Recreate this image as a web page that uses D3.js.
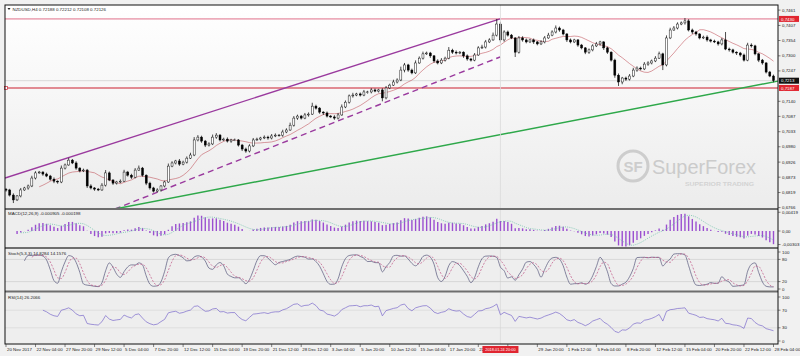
<!DOCTYPE html>
<html><head><meta charset="utf-8">
<script src="https://cdn.jsdelivr.net/npm/d3@7"></script>
<style>
body{margin:0;background:#efefef}
svg{display:block}
text{font-family:"Liberation Sans",Arial,sans-serif}
</style></head>
<body><svg id="c" width="800" height="356"></svg>
<script>
// ---------- DATA (prices in 1e-4 units) ----------
const firstOpen = 6830;
const closes = [
6828,6810,6793,6807,6828,6835,6842,6870,6888,6891,
6884,6877,6866,6859,6856,6905,6916,6933,6923,6905,
6895,6898,6842,6835,6831,6828,6845,6888,6863,6852,
6856,6859,6891,6880,6873,6898,6905,6880,6852,6835,
6824,6828,6842,6856,6912,6923,6930,6919,6926,6940,
6951,7004,7014,7000,6986,6990,7014,7021,7004,7007,
7000,7004,7004,6986,6972,6965,6983,7004,7007,7011,
7014,7011,7018,7021,7021,7032,7039,7056,7081,7088,
7081,7092,7095,7123,7116,7102,7099,7088,7085,7081,
7092,7120,7137,7159,7162,7166,7162,7173,7173,7180,
7176,7180,7152,7187,7197,7208,7215,7250,7268,7250,
7240,7275,7292,7307,7310,7300,7282,7275,7285,7292,
7320,7313,7310,7313,7300,7289,7285,7303,7328,7331,
7349,7356,7373,7412,7356,7384,7373,7363,7313,7363,
7356,7349,7356,7349,7342,7349,7363,7373,7384,7398,
7391,7377,7356,7349,7356,7338,7328,7313,7321,7335,
7342,7349,7328,7313,7285,7232,7208,7222,7218,7229,
7250,7257,7254,7271,7275,7282,7292,7307,7268,7363,
7391,7398,7412,7416,7423,7391,7384,7377,7363,7366,
7356,7352,7349,7342,7356,7324,7321,7313,7310,7303,
7285,7338,7335,7307,7285,7275,7243,7229,7213];
const wickUp = [
5,4,6,3,7,4,5,8,6,4,3,5,4,6,3,9,5,8,4,6,
3,5,4,6,3,4,7,10,5,3,4,6,8,4,5,7,9,4,3,5,
4,6,3,5,9,6,4,7,5,6,8,10,7,5,4,6,9,7,4,5,
6,4,5,3,4,5,6,7,5,4,6,5,7,6,4,8,6,9,7,5,
4,7,6,12,5,4,3,5,4,6,7,9,6,5,8,4,5,7,4,6,
5,4,6,7,5,8,6,12,7,4,5,9,6,8,5,4,3,6,7,5,
11,5,6,4,3,5,4,7,6,8,7,6,9,18,8,6,5,4,3,7,
6,5,4,5,3,6,7,8,6,9,5,4,3,5,4,3,4,3,5,6,
7,4,3,4,3,5,6,4,5,7,8,6,5,7,6,5,7,8,4,9,
8,7,6,5,10,6,5,4,3,5,6,4,5,4,7,28,5,4,3,4,
5,8,6,4,3,4,3,4,5];
const wickDn = [
6,5,11,4,5,3,6,4,5,3,6,4,5,7,6,4,5,3,4,6,
5,4,7,5,6,4,3,5,4,6,5,4,3,5,6,4,3,5,7,6,
5,4,6,5,3,4,5,6,4,5,3,4,5,6,7,5,4,6,5,4,
5,6,4,5,7,6,5,4,3,5,4,6,5,4,5,6,4,3,5,6,
5,4,6,3,5,6,7,5,4,6,5,3,4,5,6,4,5,4,6,5,
4,5,12,5,4,3,5,4,8,6,5,4,3,5,4,7,6,5,4,5,
4,6,5,4,7,6,5,4,3,4,5,4,3,5,9,6,5,4,17,5,
6,5,4,7,5,4,5,3,4,5,6,5,7,5,4,6,5,7,6,5,
4,6,7,6,5,9,14,8,6,5,4,6,5,4,6,5,4,3,18,5,
4,3,5,4,6,5,7,6,5,4,6,5,4,6,5,4,6,5,7,6,
5,4,6,5,7,6,5,4,6];
const timeLabels = ["20 Nov 2017","22 Nov 04:00","27 Nov 20:00","29 Nov 12:00","5 Dec 04:00","7 Dec 20:00",
"12 Dec 12:00","15 Dec 04:00","19 Dec 20:00","21 Dec 12:00","28 Dec 12:00","3 Jan 04:00","5 Jan 20:00",
"10 Jan 12:00","15 Jan 04:00","17 Jan 20:00","22 Jan 12:00","25 Jan 04:00","29 Jan 20:00","1 Feb 12:00",
"5 Feb 04:00","8 Feb 20:00","12 Feb 12:00","15 Feb 04:00","20 Feb 20:00","22 Feb 12:00","28 Feb 04:00"];
const priceTicks = [0.7461,0.7407,0.7354,0.7300,0.7247,0.7194,0.7140,0.7087,0.7033,0.6980,0.6926,0.6873,0.6819,0.6766];
const macdTicks = [0.00419,0,-0.00303];
const macdTickText = ["0,00419","0,00","-0,00303"];
const stochTicks = [100,80,20,0];
const rsiTicks = [100,70,30,0];
const resistance = 0.7430, support = 0.7187, bidPrice = 0.72126;
// trend lines as [barIndex, price]
const channelUpper = [[-0.27,0.6870],[133.9,0.7430]];
const channelLower = [[29.5,0.6761],[133.9,0.7296]];
const greenTrend = [[29.5,0.6761],[209.2,0.7211]];
const cursorBar = 134, cursorText = "2018.01.24 20:00";
const headerText = "NZDUSD,H4  0.72188 0.72212 0.72108 0.72126";
const macdText = "MACD(12,26,9) -0.000905 -0.000198";
const stochText = "Stoch(5,3,3) 14.8284 14.1576";
const rsiText = "RSI(14) 26.2066";

// ---------- BUILD ----------
const bars = closes.map((c,i)=>{
  const o = i===0?firstOpen:closes[i-1];
  return {i, o:o/1e4, c:c/1e4, h:(Math.max(o,c)+wickUp[i])/1e4, l:(Math.min(o,c)-wickDn[i])/1e4};
});
const C = bars.map(b=>b.c);

const L=5, R=778, T=5;
const x = d3.scaleLinear().domain([0,208]).range([6,773.5]);
const y = d3.scaleLinear().domain([0.6761,0.7479]).range([209,5]);
const ym = d3.scaleLinear().domain([-0.00358,0.0047]).range([247,210]);
const ys = d3.scaleLinear().domain([0,100]).range([289,252]);
const yr = d3.scaleLinear().domain([0,100]).range([341,297]);

const svg = d3.select("#c");
const defs = svg.append("defs");
const g1 = defs.append("linearGradient").attr("id","bg").attr("x1",0).attr("y1",0).attr("x2",0).attr("y2",1);
g1.append("stop").attr("offset","0%").attr("stop-color","#ffffff");
g1.append("stop").attr("offset","100%").attr("stop-color","#ececec");
defs.append("clipPath").attr("id","clipMain").append("rect").attr("x",L).attr("y",T).attr("width",R-L).attr("height",209-T);

svg.append("rect").attr("width",800).attr("height",356).attr("fill","#f1f1f1");
svg.append("rect").attr("x",L).attr("y",T).attr("width",R-L).attr("height",209-T).attr("fill","url(#bg)");
svg.append("rect").attr("x",L).attr("y",209).attr("width",R-L).attr("height",344-209).attr("fill","#eeeeee");

// watermark
const wm = svg.append("g").attr("fill","#cbcbcb");
wm.append("circle").attr("cx",633).attr("cy",166).attr("r",15).attr("fill","none").attr("stroke","#cdcdcd").attr("stroke-width",3);
wm.append("text").attr("x",633).attr("y",171.5).attr("text-anchor","middle").attr("font-size",15).attr("font-weight","bold").attr("font-family","Roboto").attr("fill","#cdcdcd").text("SF");
wm.append("text").attr("x",652).attr("y",174).attr("font-size",20).attr("font-family","Roboto").attr("font-weight",500)
  .attr("textLength",104).attr("lengthAdjust","spacingAndGlyphs").text("SuperForex");
wm.append("text").attr("x",685).attr("y",185.5).attr("font-size",6).attr("font-weight","bold")
  .attr("textLength",69).attr("lengthAdjust","spacingAndGlyphs").attr("fill","#d3d3d3").text("SUPERIOR TRADING");

const main = svg.append("g").attr("clip-path","url(#clipMain)");
svg.append("line").attr("x1",x(cursorBar)).attr("x2",x(cursorBar)).attr("y1",T).attr("y2",344).attr("stroke","#dcdcdc").attr("stroke-width",0.8);
main.append("line").attr("x1",L).attr("x2",R).attr("y1",y(bidPrice)).attr("y2",y(bidPrice)).attr("stroke","#d0d0d0").attr("stroke-width",0.8);
main.append("line").attr("x1",L).attr("x2",R).attr("y1",y(resistance)).attr("y2",y(resistance)).attr("stroke","#e0708a").attr("stroke-width",1);
main.append("line").attr("x1",L).attr("x2",R).attr("y1",y(support)).attr("y2",y(support)).attr("stroke","#cc2030").attr("stroke-width",1.1);
svg.append("rect").attr("x",L-0.5).attr("y",y(support)-1.5).attr("width",3).attr("height",3).attr("fill","#fff").attr("stroke","#cc2030").attr("stroke-width",0.7);

const tl = d3.line().x(d=>x(d[0])).y(d=>y(d[1]));
main.append("path").attr("d",tl(channelUpper)).attr("stroke","#9a3a9e").attr("stroke-width",1.4).attr("fill","none");
main.append("path").attr("d",tl(channelLower)).attr("stroke","#9a3a9e").attr("stroke-width",1.4).attr("stroke-dasharray","6,4").attr("fill","none");
main.append("path").attr("d",tl(greenTrend)).attr("stroke","#2ea84a").attr("stroke-width",1.4).attr("fill","none");

function sma(a,n){return a.map((v,i)=>i<n-1?null:d3.mean(a.slice(i-n+1,i+1)));}
const ma = sma(C,10);
main.append("path").datum(ma.map((v,i)=>[i,v]).filter(d=>d[1]!==null))
  .attr("d",d3.line().x(d=>x(d[0])).y(d=>y(d[1]))).attr("fill","none").attr("stroke","#b83a44").attr("stroke-width",0.5);

const cg = main.append("g");
cg.selectAll("line.w").data(bars).join("line").attr("x1",d=>x(d.i)).attr("x2",d=>x(d.i))
  .attr("y1",d=>y(d.h)).attr("y2",d=>y(d.l)).attr("stroke","#000").attr("stroke-width",0.7);
cg.selectAll("rect.b").data(bars).join("rect")
  .attr("x",d=>x(d.i)-1).attr("width",2)
  .attr("y",d=>y(Math.max(d.o,d.c))).attr("height",d=>Math.max(0.7,Math.abs(y(d.o)-y(d.c))))
  .attr("fill",d=>d.c>=d.o?"#ffffff":"#000000").attr("stroke","#000").attr("stroke-width",0.45);

// ---------- indicators ----------
function ema(a,n){const k=2/(n+1);let p=a[0];return a.map((v,i)=>(p=i?v*k+p*(1-k):v));}
const e6=ema(C,6), e13=ema(C,13);
const macd = e6.map((v,i)=>v-e13[i]);
const signal = sma(macd,5);
const ind = svg.append("g");
ind.selectAll("line.h").data(macd.map((v,i)=>({i,v})).slice(3)).join("line")
  .attr("x1",d=>x(d.i)).attr("x2",d=>x(d.i)).attr("y1",ym(0)).attr("y2",d=>ym(d.v))
  .attr("stroke","#9b4fd0").attr("stroke-width",1.4);
ind.append("path").datum(signal.map((v,i)=>[i,v]).filter(d=>d[1]!==null))
  .attr("d",d3.line().x(d=>x(d[0])).y(d=>ym(d[1]))).attr("fill","none").attr("stroke","#6fc2aa").attr("stroke-width",0.8).attr("stroke-dasharray","1,1.2");

const H = bars.map(b=>b.h), Lo = bars.map(b=>b.l);
const kp=4, sl=3, dp=3;
const kVals = C.map((c,i)=>{
  if(i<kp+sl-2) return null;
  let num=0,den=0;
  for(let j=i-sl+1;j<=i;j++){const hh=d3.max(H.slice(j-kp+1,j+1)), ll=d3.min(Lo.slice(j-kp+1,j+1)); num+=C[j]-ll; den+=hh-ll;}
  return den?num/den*100:50;
});
const dVals = kVals.map((v,i)=>{const s=kVals.slice(Math.max(0,i-dp+1),i+1); return s.length<dp||s.includes(null)?null:d3.mean(s);});
[80,20].forEach(l=>ind.append("line").attr("x1",L).attr("x2",R).attr("y1",ys(l)).attr("y2",ys(l)).attr("stroke","#c8c8c8").attr("stroke-width",0.6));
ind.append("path").datum(kVals.map((v,i)=>[i,v]).filter(d=>d[1]!==null))
  .attr("d",d3.line().x(d=>x(d[0])).y(d=>ys(d[1])).curve(d3.curveMonotoneX)).attr("fill","none").attr("stroke","#55557a").attr("stroke-width",0.7);
ind.append("path").datum(dVals.map((v,i)=>[i,v]).filter(d=>d[1]!==null))
  .attr("d",d3.line().x(d=>x(d[0])).y(d=>ys(d[1])).curve(d3.curveMonotoneX)).attr("fill","none").attr("stroke","#c05585").attr("stroke-width",0.7).attr("stroke-dasharray","2,1.5");

const rp=10; let ag=0, al=0; const rsi=[];
C.forEach((c,i)=>{
  if(i===0){rsi.push(null);return;}
  const ch=c-C[i-1], gn=Math.max(ch,0), ls=Math.max(-ch,0);
  if(i<=rp){ag+=gn/rp; al+=ls/rp; rsi.push(i===rp?100-100/(1+ag/(al||1e-9)):null);}
  else{ag=(ag*(rp-1)+gn)/rp; al=(al*(rp-1)+ls)/rp; rsi.push(100-100/(1+ag/(al||1e-9)));}
});
[70,30].forEach(l=>ind.append("line").attr("x1",L).attr("x2",R).attr("y1",yr(l)).attr("y2",yr(l)).attr("stroke","#d4d4d4").attr("stroke-width",0.6));
ind.append("path").datum(rsi.map((v,i)=>[i,v]).filter(d=>d[1]!==null))
  .attr("d",d3.line().x(d=>x(d[0])).y(d=>yr(d[1]))).attr("fill","none").attr("stroke","#7a68cc").attr("stroke-width",0.7);

// ---------- frame & separators ----------
[209,248,291.5].forEach(s=>svg.append("line").attr("x1",L).attr("x2",R).attr("y1",s).attr("y2",s).attr("stroke","#6e6e6e").attr("stroke-width",2));
svg.append("rect").attr("x",L).attr("y",T).attr("width",R-L).attr("height",344-T).attr("fill","none").attr("stroke","#111").attr("stroke-width",1);

// ---------- axes ----------
const fs = 4.4;
const fmt4 = v=>v.toFixed(4).replace(".",",");
const ra = svg.append("g").attr("font-size",fs).attr("fill","#222");
const boxPrices = [resistance,bidPrice,support];
function rightTicks(vals,scale,texts,avoid){
  vals.forEach((v,k)=>{
    ra.append("line").attr("x1",R).attr("x2",R+2.5).attr("y1",scale(v)).attr("y2",scale(v)).attr("stroke","#333").attr("stroke-width",0.6);
    if(avoid && avoid.some(p=>Math.abs(y(p)-scale(v))<5.5)) return;
    ra.append("text").attr("x",R+4).attr("y",scale(v)+1.5).text(texts[k]);
  });
}
rightTicks(priceTicks,y,priceTicks.map(fmt4),boxPrices);
rightTicks(macdTicks,ym,macdTickText);
rightTicks(stochTicks,ys,stochTicks.map(String));
rightTicks(rsiTicks,yr,rsiTicks.map(String));

function priceBox(v,fill){
  ra.append("rect").attr("x",R+1).attr("y",y(v)-3).attr("width",20).attr("height",6).attr("fill",fill);
  ra.append("text").attr("x",R+3).attr("y",y(v)+1.6).attr("fill","#fff").text(fmt4(v));
}
priceBox(resistance,"#e02530");
priceBox(bidPrice,"#111111");
priceBox(support,"#e02530");

// time axis
const ta = svg.append("g").attr("font-size",fs).attr("fill","#222");
const boxL = x(cursorBar)-18, boxR = x(cursorBar)+18;
timeLabels.forEach((t,k)=>{
  const xi = x(k*8);
  ta.append("line").attr("x1",xi).attr("x2",xi).attr("y1",344).attr("y2",347).attr("stroke","#333").attr("stroke-width",0.6);
  if(xi+1 > boxL-2 && xi+1 < boxR) return;
  ta.append("text").attr("x",xi+1).attr("y",351).text(t);
});
ta.append("rect").attr("x",boxL).attr("y",346).attr("width",36).attr("height",7).attr("fill","#e02530");
ta.append("text").attr("x",x(cursorBar)).attr("y",351.2).attr("text-anchor","middle").attr("fill","#fff")
  .attr("font-size",3.9).text(cursorText);

// labels
const lb = svg.append("g").attr("font-size",fs).attr("fill","#222");
lb.append("path").attr("d","M7.5,8 L10.5,8 L9,10 Z").attr("fill","#222");
lb.append("text").attr("x",12.5).attr("y",10.5).text(headerText);
lb.append("text").attr("x",8).attr("y",215).text(macdText);
lb.append("text").attr("x",8).attr("y",254.5).text(stochText);
lb.append("text").attr("x",8).attr("y",298.5).text(rsiText);
</script></body></html>
